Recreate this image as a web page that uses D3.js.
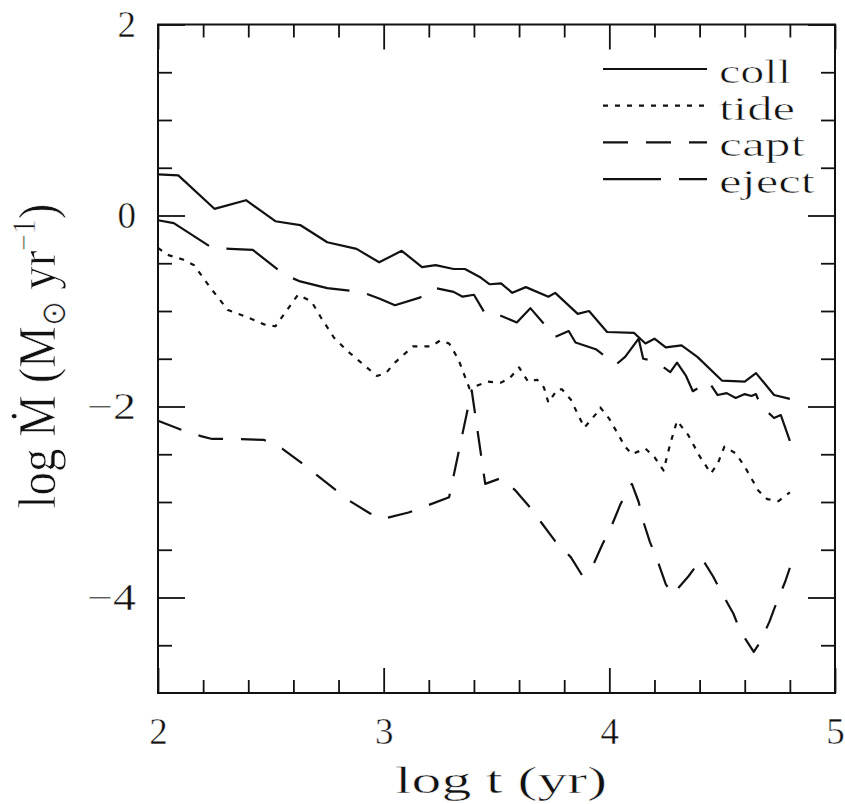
<!DOCTYPE html>
<html><head><meta charset="utf-8">
<script src="https://cdn.jsdelivr.net/npm/d3@7"></script>
<style>body{margin:0;background:#fff} svg{display:block}</style>
</head><body>
<svg id="chart" width="845" height="804"></svg>
<script>
// ---- data ----
const collX = [2.00,2.09,2.25,2.39,2.52,2.63,2.75,2.88,2.98,3.08,3.17,3.23,3.31,3.36,3.43,3.47,3.52,3.57,3.63,3.73,3.76,3.86,3.91,3.99,4.11,4.16,4.20,4.25,4.32,4.39,4.50,4.60,4.65,4.73,4.80];
const collY = [0.43,0.42,0.07,0.16,-0.06,-0.10,-0.28,-0.35,-0.49,-0.37,-0.54,-0.52,-0.56,-0.56,-0.65,-0.72,-0.71,-0.81,-0.75,-0.85,-0.81,-1.03,-1.00,-1.22,-1.23,-1.34,-1.29,-1.38,-1.36,-1.48,-1.73,-1.74,-1.65,-1.88,-1.92];

const tideX = [2.00,2.04,2.11,2.16,2.23,2.31,2.39,2.47,2.52,2.56,2.62,2.68,2.72,2.78,2.84,2.97,3.01,3.05,3.13,3.21,3.25,3.29,3.33,3.38,3.46,3.52,3.56,3.60,3.64,3.68,3.71,3.73,3.77,3.79,3.83,3.86,3.89,3.94,3.96,4.00,4.07,4.10,4.16,4.20,4.24,4.27,4.30,4.35,4.40,4.45,4.48,4.51,4.56,4.60,4.66,4.70,4.75,4.80];
const tideY = [-0.34,-0.41,-0.46,-0.52,-0.75,-0.99,-1.06,-1.14,-1.16,-1.03,-0.83,-0.90,-1.06,-1.28,-1.42,-1.68,-1.65,-1.54,-1.37,-1.37,-1.31,-1.34,-1.50,-1.81,-1.74,-1.75,-1.70,-1.59,-1.74,-1.72,-1.80,-1.96,-1.82,-1.82,-1.93,-2.08,-2.22,-2.08,-2.01,-2.13,-2.42,-2.50,-2.44,-2.53,-2.67,-2.39,-2.15,-2.30,-2.52,-2.70,-2.60,-2.42,-2.49,-2.63,-2.88,-2.97,-2.99,-2.90];

const captX = [2.00,2.10,2.19,2.24,2.32,2.36,2.47,2.55,2.63,2.70,2.78,2.85,2.94,2.99,3.11,3.19,3.29,3.39,3.45,3.52,3.58,3.65,3.70,3.76,3.83,3.88,3.93,3.97,4.01,4.05,4.10,4.13,4.15,4.18,4.21,4.25,4.28,4.35,4.41,4.46,4.50,4.55,4.58,4.64,4.67,4.71,4.74,4.78,4.80];
const captY = [-2.15,-2.24,-2.31,-2.34,-2.34,-2.34,-2.35,-2.44,-2.58,-2.71,-2.86,-2.99,-3.12,-3.18,-3.11,-3.04,-2.95,-1.83,-2.81,-2.75,-2.87,-3.06,-3.22,-3.41,-3.58,-3.77,-3.65,-3.44,-3.25,-3.02,-2.81,-3.00,-3.20,-3.42,-3.59,-3.86,-3.97,-3.78,-3.59,-3.78,-3.96,-4.17,-4.35,-4.57,-4.46,-4.25,-4.06,-3.83,-3.69];

const ejectX = [2.00,2.07,2.24,2.32,2.42,2.56,2.63,2.75,2.90,2.98,3.05,3.16,3.23,3.31,3.35,3.40,3.45,3.51,3.59,3.65,3.76,3.82,3.85,3.94,4.03,4.07,4.13,4.15,4.19,4.23,4.27,4.30,4.34,4.37,4.44,4.48,4.52,4.56,4.60,4.63,4.65,4.67,4.73,4.76,4.80];
const ejectY = [-0.05,-0.08,-0.34,-0.35,-0.36,-0.62,-0.69,-0.76,-0.80,-0.87,-0.94,-0.86,-0.76,-0.80,-0.85,-0.83,-1.03,-1.04,-1.12,-0.97,-1.27,-1.21,-1.33,-1.40,-1.56,-1.48,-1.29,-1.50,-1.52,-1.57,-1.64,-1.54,-1.68,-1.84,-1.74,-1.88,-1.86,-1.91,-1.87,-1.89,-1.87,-1.99,-2.12,-2.09,-2.36];

const seriesNames = ["coll","tide","capt","eject"];
const xMajorTicks = [2,3,4,5];
const xMinorTicks = [2.2,2.4,2.6,2.8,3.2,3.4,3.6,3.8,4.2,4.4,4.6,4.8];
const yMajorTicks = [2,0,-2,-4];
const yMinorTicks = [1.5,1,0.5,-0.5,-1,-1.5,-2.5,-3,-3.5,-4.5];
const xTitle = "log t (yr)";

// ---- layout / styles ----
const L = 158, R = 835, T = 24.5, B = 693;
const dashes = {coll: null, tide: "5,7", capt: "25,18", eject: "58,18"};
const legendLen = {coll: 72, tide: 76, capt: 86, eject: 96};
const FONT = "'Liberation Serif','Times New Roman',serif";

const svg = d3.select("#chart");
const x = d3.scaleLinear().domain([2,5]).range([L,R]);
const y = d3.scaleLinear().domain([-5,2]).range([B,T]);

const data = {
  coll: collX.map((v,i)=>[v,collY[i]]),
  tide: tideX.map((v,i)=>[v,tideY[i]]),
  capt: captX.map((v,i)=>[v,captY[i]]),
  eject: ejectX.map((v,i)=>[v,ejectY[i]])
};

// slightly lighter glyph strokes (Computer Modern-like)
function thin(sel, w){
  sel.attr("stroke","#fff").attr("stroke-width",w||0.45).attr("stroke-linejoin","round");
}

// ---- axes (ticks inward on all four sides) ----
function styleAxis(g){
  g.select(".domain").remove();
  g.selectAll(".tick line").attr("stroke","#111").attr("stroke-width",1.8);
  g.selectAll("text").attr("font-family",FONT).attr("font-size",37).attr("fill","#111").call(thin);
}
svg.append("g").attr("transform",`translate(0,${B})`)
  .call(d3.axisBottom(x).tickValues(xMinorTicks).tickSize(-13).tickFormat(""))
  .call(styleAxis);
svg.append("g").attr("transform",`translate(0,${B})`)
  .call(d3.axisBottom(x).tickValues(xMajorTicks).tickSize(-25).tickPadding(25).tickFormat(d3.format("d")))
  .call(styleAxis);
svg.append("g").attr("transform",`translate(0,${T})`)
  .call(d3.axisTop(x).tickValues(xMinorTicks).tickSize(-13).tickFormat(""))
  .call(styleAxis);
svg.append("g").attr("transform",`translate(0,${T})`)
  .call(d3.axisTop(x).tickValues(xMajorTicks).tickSize(-25).tickFormat(""))
  .call(styleAxis);
svg.append("g").attr("transform",`translate(${L},0)`)
  .call(d3.axisLeft(y).tickValues(yMinorTicks).tickSize(-14).tickFormat(""))
  .call(styleAxis);
const yl = svg.append("g").attr("transform",`translate(${L},0)`)
  .call(d3.axisLeft(y).tickValues(yMajorTicks).tickSize(-27).tickPadding(22).tickFormat(d3.format("d")))
  .call(styleAxis);
yl.selectAll("text").filter(d=>d<0).attr("textLength",49).attr("lengthAdjust","spacingAndGlyphs");
svg.append("g").attr("transform",`translate(${R},0)`)
  .call(d3.axisRight(y).tickValues(yMinorTicks).tickSize(-14).tickFormat(""))
  .call(styleAxis);
svg.append("g").attr("transform",`translate(${R},0)`)
  .call(d3.axisRight(y).tickValues(yMajorTicks).tickSize(-27).tickFormat(""))
  .call(styleAxis);

// frame
svg.append("rect").attr("x",L).attr("y",T).attr("width",R-L).attr("height",B-T)
  .attr("fill","none").attr("stroke","#111").attr("stroke-width",2);

// ---- series ----
const line = d3.line().x(d=>x(d[0])).y(d=>y(d[1]));
seriesNames.forEach(n=>{
  svg.append("path").datum(data[n]).attr("d",line)
    .attr("fill","none").attr("stroke","#111").attr("stroke-width",2.2)
    .attr("stroke-linejoin","round")
    .attr("stroke-dasharray",dashes[n]);
});

// ---- legend ----
const lg = svg.append("g");
seriesNames.forEach((n,i)=>{
  const ly = 69 + i*36.7;
  lg.append("line").attr("x1",603).attr("x2",707).attr("y1",ly).attr("y2",ly)
    .attr("stroke","#111").attr("stroke-width",2.2).attr("stroke-dasharray",dashes[n]);
  lg.append("text").attr("x",719).attr("y",ly+14).text(n)
    .attr("font-family",FONT).attr("font-size",34).attr("fill","#111")
    .attr("textLength",legendLen[n]).attr("lengthAdjust","spacingAndGlyphs")
    .call(thin, 0.6);
});

// ---- axis titles ----
svg.append("text").attr("x",501).attr("y",793).attr("text-anchor","middle")
  .attr("font-family",FONT).attr("font-size",38).attr("fill","#111")
  .attr("textLength",212).attr("lengthAdjust","spacingAndGlyphs")
  .call(thin, 0.5)
  .text(xTitle);

const yt = svg.append("text")
  .attr("transform","translate(55,356) scale(1.4,1) rotate(-90)")
  .attr("text-anchor","middle")
  .attr("font-family",FONT).attr("font-size",38).attr("fill","#111")
  .attr("textLength",305).attr("lengthAdjust","spacingAndGlyphs")
  .call(thin, 0.5);
yt.append("tspan").text("log Ṁ (M");
yt.append("tspan").attr("font-size",24).attr("dy",7).text("⊙");
yt.append("tspan").attr("dy",-7).text(" yr");
yt.append("tspan").attr("font-size",24).attr("dy",-14).text("−1");
yt.append("tspan").attr("dy",14).text(")");
</script>
</body></html>
